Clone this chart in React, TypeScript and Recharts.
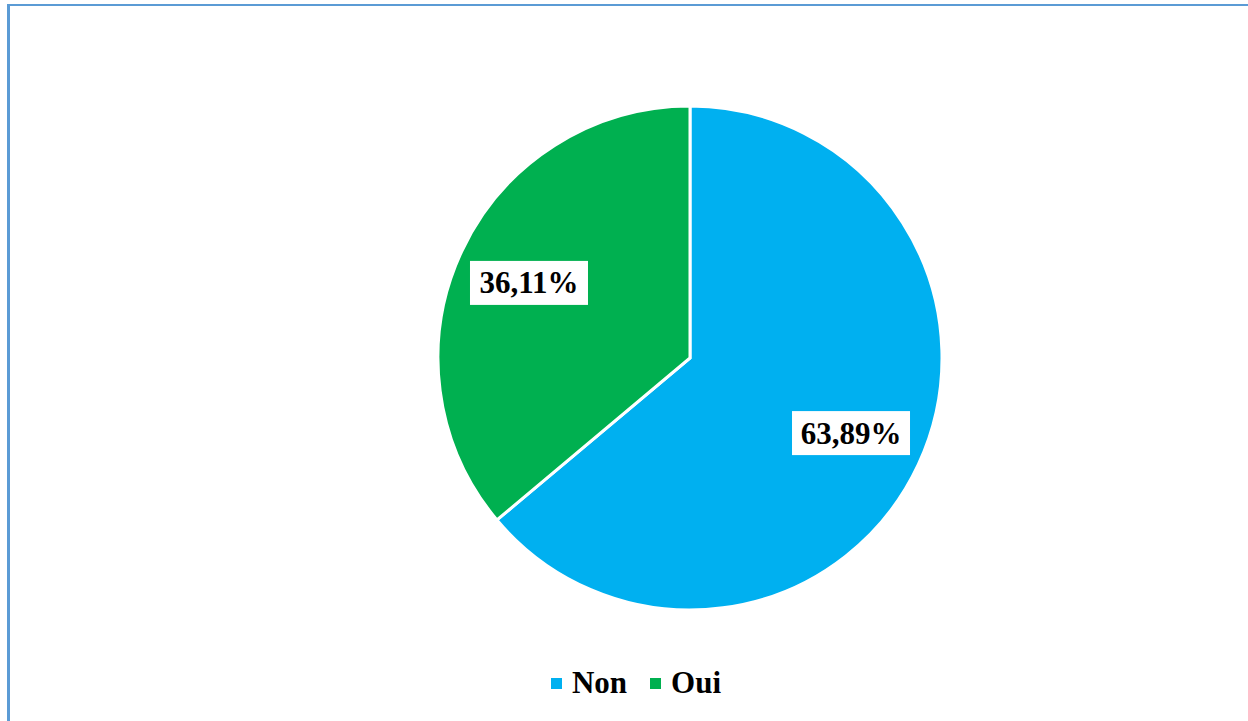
import { PieChart, Pie, Cell, Legend } from 'recharts';

const categories = ['Non', 'Oui'];
const values = [63.89, 36.11];
const colors = ['#00B0F0', '#00B050'];

const data = categories.map((name, i) => ({ name, value: values[i] }));

const FONT = '"Liberation Serif", "Times New Roman", serif';
const RAD = Math.PI / 180;

// white box with the percentage, placed at ~70% of the radius
function renderLabel(props: any) {
  const { cx, cy, midAngle, outerRadius, value } = props;
  const r = outerRadius * 0.705;
  const x = cx + r * Math.cos(-midAngle * RAD);
  const y = cy + r * Math.sin(-midAngle * RAD);
  const text = value.toFixed(2).replace('.', ',') + '%';
  const w = 118;
  const h = 44;
  return (
    <g>
      <rect x={x - w / 2} y={y - h / 2} width={w} height={h} fill="#ffffff" />
      <text
        x={x}
        y={y}
        textAnchor="middle"
        dominantBaseline="central"
        fontFamily={FONT}
        fontWeight="bold"
        fontSize={31}
        fill="#000000"
      >
        {text}
      </text>
    </g>
  );
}

function LegendContent() {
  return (
    <div style={{ display: 'flex', justifyContent: 'center', alignItems: 'center', fontFamily: FONT }}>
      {categories.map((c, i) => (
        <div key={c} style={{ display: 'flex', alignItems: 'center', marginLeft: i ? 23 : 0 }}>
          <span style={{ width: 11, height: 11, background: colors[i], display: 'inline-block', marginRight: 10 }} />
          <span style={{ fontSize: 31, fontWeight: 'bold', color: '#000', lineHeight: '36px' }}>{c}</span>
        </div>
      ))}
    </div>
  );
}

export default function App() {
  return (
    <div style={{ position: 'absolute', left: 0, top: 0, width: 1248, height: 721, overflow: 'hidden', background: '#fff' }}>
      <div
        style={{
          position: 'absolute',
          left: 7,
          top: 4,
          width: 1300,
          height: 800,
          borderLeft: '3px solid #5B9BD5',
          borderTop: '2px solid #5B9BD5',
        }}
      />
      <div style={{ position: 'absolute', left: 0, top: 0 }}>
        <PieChart width={1248} height={721} margin={{ top: 0, right: 0, bottom: 0, left: 0 }}>
          <Pie
            data={data}
            dataKey="value"
            nameKey="name"
            cx={690}
            cy={358}
            outerRadius={252}
            startAngle={90}
            endAngle={-270}
            stroke="#ffffff"
            strokeWidth={3}
            label={renderLabel}
            labelLine={false}
            isAnimationActive={false}
          >
            {data.map((d, i) => (
              <Cell key={d.name} fill={colors[i]} />
            ))}
          </Pie>
          <Legend
            content={<LegendContent />}
            wrapperStyle={{ position: 'absolute', top: 665, left: 0, width: 1272 }}
          />
        </PieChart>
      </div>
    </div>
  );
}
